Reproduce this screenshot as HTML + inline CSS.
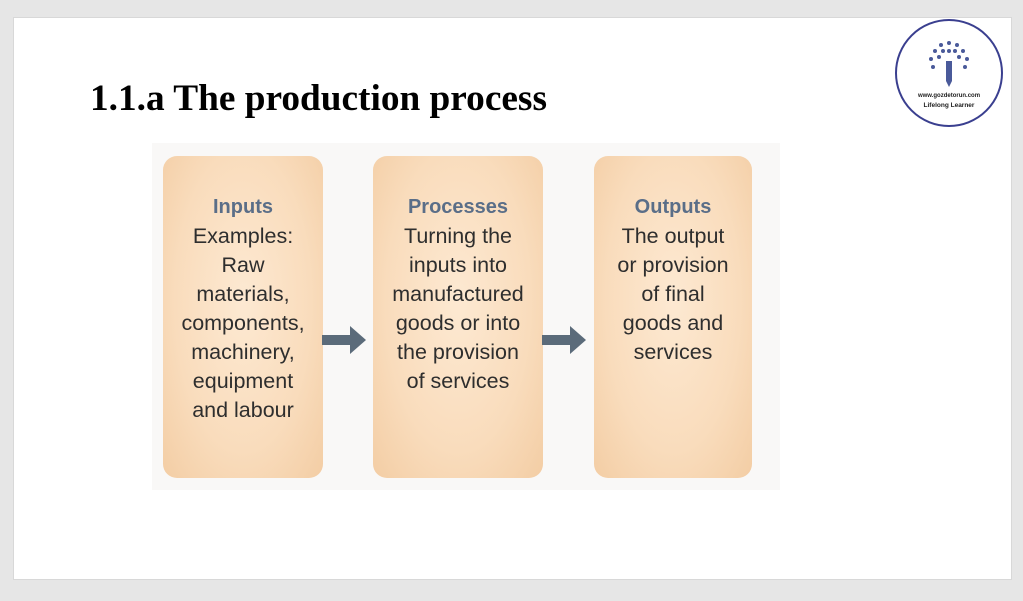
<!DOCTYPE html>
<html><head><style>
body{margin:0;width:1023px;height:601px;background:#e6e6e6;position:relative;overflow:hidden;font-family:"Liberation Sans",sans-serif}
.slide{position:absolute;left:13px;top:17px;width:997px;height:561px;background:#fff;border:1px solid #d8d8d8}
h1{position:absolute;left:90px;top:77px;margin:0;font:bold 37.3px "Liberation Serif",serif;color:#000;white-space:nowrap}
.img{position:absolute;left:152px;top:143px;width:628px;height:347px;background:#f9f8f7}
.box{position:absolute;top:156px;height:322px;border-radius:14px;background:radial-gradient(ellipse at 50% 45%,#fde9d2 0%,#f9dcbc 60%,#f3cda4 100%);text-align:center;color:#2e2e2e;font-size:21.5px;line-height:29px;box-sizing:border-box}
.txt{position:absolute;width:100%;top:36px;left:0;white-space:nowrap}
.h{color:#5a6e88;font-weight:bold;font-size:20px}
.arrow{position:absolute}
.logo{position:absolute;left:895px;top:19px;width:108px;height:108px;border:2px solid #3a3f8f;border-radius:50%;box-sizing:border-box;text-align:center}
</style></head><body>
<div class="slide"></div>
<h1>1.1.a The production process</h1>
<div class="logo">
<svg width="60" height="60" viewBox="0 0 60 60" style="position:absolute;left:22px;top:14px">
<g fill="#4a5a9a"><rect x="27" y="26" width="6" height="20"/><polygon points="27,46 33,46 30,52"/>
<circle cx="30" cy="8" r="2"/><circle cx="22" cy="10" r="2"/><circle cx="38" cy="10" r="2"/><circle cx="16" cy="16" r="2"/><circle cx="44" cy="16" r="2"/><circle cx="24" cy="16" r="2"/><circle cx="36" cy="16" r="2"/><circle cx="12" cy="24" r="2"/><circle cx="48" cy="24" r="2"/><circle cx="20" cy="22" r="2"/><circle cx="40" cy="22" r="2"/><circle cx="30" cy="16" r="2"/><circle cx="14" cy="32" r="2"/><circle cx="46" cy="32" r="2"/></g></svg>
<div style="position:absolute;top:72px;width:100%;font-size:6px;font-weight:bold;color:#222">www.gozdetorun.com</div>
<div style="position:absolute;top:81px;width:100%;font-size:6.5px;font-weight:bold;color:#222">Lifelong Learner</div>
</div>
<div class="img"></div>
<div class="box" style="left:163px;width:160px"><div class="txt"><span class="h">Inputs</span><br>Examples:<br>Raw<br>materials,<br>components,<br>machinery,<br>equipment<br>and labour</div></div>
<div class="box" style="left:373px;width:170px"><div class="txt"><span class="h">Processes</span><br>Turning the<br>inputs into<br>manufactured<br>goods or into<br>the provision<br>of services</div></div>
<div class="box" style="left:594px;width:158px"><div class="txt"><span class="h">Outputs</span><br>The output<br>or provision<br>of final<br>goods and<br>services</div></div>
<svg class="arrow" style="left:322px;top:324px" width="46" height="32"><polygon points="0,11 28,11 28,2 44,16 28,30 28,21 0,21" fill="#5b6b7a"/></svg>
<svg class="arrow" style="left:542px;top:324px" width="46" height="32"><polygon points="0,11 28,11 28,2 44,16 28,30 28,21 0,21" fill="#5b6b7a"/></svg>
</body></html>
